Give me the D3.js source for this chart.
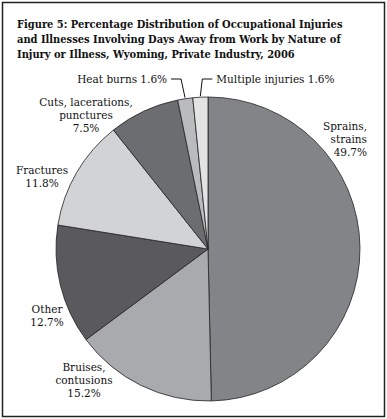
<!DOCTYPE html>
<html lang="en">
<head>
    <meta charset="UTF-8">
    <title>Figure 5: Nature of Injury or Illness, Wyoming, 2006</title>
    <script src="https://d3js.org/d3.v7.min.js"></script>
    <style>
        body { margin: 0; background: #fff; }
        .title { font-family: "DejaVu Serif Condensed", "DejaVu Serif", serif; font-weight: bold; font-size: 11px; fill: #111; }
        .label { font-family: "DejaVu Serif", serif; font-size: 10.5px; fill: #111; }
        .slice { stroke: #222; stroke-width: 0.8; }
        .leader { fill: none; stroke: #111; stroke-width: 1; }
    </style>
</head>
<body>
    <svg width="387" height="419"></svg>

    <script>
        // data
        const categories = ["Sprains, strains", "Bruises, contusions", "Other", "Fractures",
                            "Cuts, lacerations, punctures", "Heat burns", "Multiple injuries"];
        const percents = [49.7, 15.2, 12.7, 11.8, 7.5, 1.6, 1.6];
        const titleLines = [
            "Figure 5: Percentage Distribution of Occupational Injuries",
            "and Illnesses Involving Days Away from Work by Nature of",
            "Injury or Illness, Wyoming, Private Industry, 2006"
        ];

        const colors = ["#838488", "#a9aaad", "#5a5a5c", "#d2d3d5", "#6c6d70", "#babbbe", "#e3e3e4"];

        // label layout: text lines, anchor point and alignment
        const labelLayout = [
            { lines: ["Sprains,", "strains", "49.7%"], x: 367, y: 130, anchor: "end" },
            { lines: ["Bruises,", "contusions", "15.2%"], x: 84, y: 371, anchor: "middle" },
            { lines: ["Other", "12.7%"], x: 47, y: 313, anchor: "middle" },
            { lines: ["Fractures", "11.8%"], x: 42, y: 174, anchor: "middle" },
            { lines: ["Cuts, lacerations,", "punctures", "7.5%"], x: 86, y: 106, anchor: "middle" },
            { leader: "left", text: "Heat burns 1.6%" },
            { leader: "right", text: "Multiple injuries 1.6%" }
        ];

        const W = 387, H = 419;
        const svg = d3.select("svg");

        // frame
        svg.append("rect")
            .attr("x", 2.5).attr("y", 2.5)
            .attr("width", W - 5).attr("height", H - 5)
            .attr("fill", "none").attr("stroke", "#222").attr("stroke-width", 1.5);

        svg.append("g").selectAll("text")
            .data(titleLines)
            .join("text")
            .attr("class", "title")
            .attr("x", 17)
            .attr("y", (d, i) => 28 + i * 15)
            .text(d => d);

        const cx = 208, cy = 249, r = 152;
        const g = svg.append("g").attr("transform", `translate(${cx},${cy})`);

        const pie = d3.pie().sort(null).value(d => d)(percents);
        const arc = d3.arc().innerRadius(0).outerRadius(r);

        g.selectAll("path")
            .data(pie)
            .join("path")
            .attr("class", "slice")
            .attr("fill", (d, i) => colors[i])
            .attr("d", arc);

        const lineH = 13;
        labelLayout.forEach((lab, i) => {
            if (lab.leader) {
                // leader line: from the arc middle up to the label row, then horizontal
                const a = (pie[i].startAngle + pie[i].endAngle) / 2;
                const dir = lab.leader === "left" ? -1 : 1;
                const x0 = Math.sin(a) * (r + 1), y0 = -Math.cos(a) * (r + 1);
                const y1 = -r - 18;
                const x1 = x0 + (lab.leader === "left" ? -4 : 2);
                const x2 = x1 + dir * 10;
                g.append("path")
                    .attr("class", "leader")
                    .attr("d", d3.line()([[x0, y0], [x1, y1], [x2, y1]]));
                g.append("text")
                    .attr("class", "label")
                    .attr("x", x2 + dir * 4)
                    .attr("y", y1 + 3.5)
                    .attr("text-anchor", lab.leader === "left" ? "end" : "start")
                    .text(lab.text);
            } else {
                const t = svg.append("text")
                    .attr("class", "label")
                    .attr("text-anchor", lab.anchor);
                lab.lines.forEach((s, k) => {
                    t.append("tspan")
                        .attr("x", lab.x)
                        .attr("y", lab.y + k * lineH)
                        .text(s);
                });
            }
        });
    </script>
</body>
</html>
